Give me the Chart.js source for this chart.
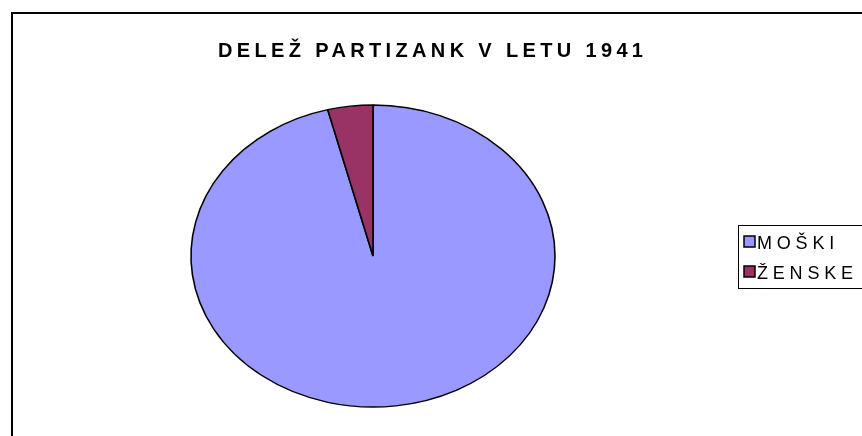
<!DOCTYPE html>
<html>
<head>
<meta charset="utf-8">
<script src="https://cdn.jsdelivr.net/npm/chart.js@4/dist/chart.umd.min.js"></script>
<style>
  html, body { margin: 0; padding: 0; background: #fff; }
  #wrap { width: 862px; height: 436px; }
</style>
</head>
<body>
<div id="wrap"><canvas id="chart" width="862" height="436"></canvas></div>
<script>
const chartTitle = 'DELEŽ PARTIZANK V LETU 1941';
const categories = ['MOŠKI', 'ŽENSKE'];
const shares = [96, 4];
const sliceColors = ['#9999FF', '#993366'];

// Excel-style pie is an ellipse: stretch the arcs horizontally around the centre
const ellipsePlugin = {
  id: 'ellipse',
  beforeDatasetsDraw(chart) {
    const arc = chart.getDatasetMeta(0).data[0];
    const ctx = chart.ctx;
    ctx.save();
    ctx.translate(arc.x, arc.y);
    ctx.scale(182 / 151, 1);
    ctx.translate(-arc.x, -arc.y);
  },
  afterDatasetsDraw(chart) {
    chart.ctx.restore();
  },
};

// frame, spaced-out title and boxed legend
const decorPlugin = {
  id: 'decor',
  afterDraw(chart) {
    const ctx = chart.ctx;
    ctx.save();

    ctx.strokeStyle = '#000';
    ctx.lineWidth = 2;
    ctx.strokeRect(12, 13, 1000, 1000);

    ctx.fillStyle = '#000';
    ctx.textBaseline = 'alphabetic';
    ctx.textAlign = 'left';
    ctx.font = 'bold 20px "Liberation Sans", Arial, sans-serif';
    ctx.letterSpacing = '4.35px';
    ctx.fillText(chartTitle, 218, 57);

    ctx.lineWidth = 1;
    ctx.strokeRect(738.5, 225.5, 200, 63);

    ctx.font = '18px "Liberation Sans", Arial, sans-serif';
    ctx.letterSpacing = '4.8px';
    const rows = [242, 272];
    categories.forEach((label, i) => {
      const y = rows[i];
      ctx.fillStyle = chart.data.datasets[0].backgroundColor[i];
      ctx.fillRect(744, y - 6, 11, 11);
      ctx.lineWidth = 1.5;
      ctx.strokeRect(744, y - 6, 11, 11);
      ctx.fillStyle = '#000';
      ctx.fillText(label, 757, y + 6.5);
    });
    ctx.restore();
  },
};

new Chart(document.getElementById('chart'), {
  type: 'pie',
  data: {
    labels: categories,
    datasets: [{
      data: shares,
      backgroundColor: sliceColors,
      borderColor: '#000',
      borderWidth: 1.3,
      radius: 151,
    }],
  },
  options: {
    responsive: false,
    animation: false,
    layout: {
      padding: { left: 0, right: 116, top: 76, bottom: 0 },
    },
    plugins: {
      legend: { display: false },
      title: { display: false },
      tooltip: { enabled: false },
    },
  },
  plugins: [ellipsePlugin, decorPlugin],
});
</script>
</body>
</html>
